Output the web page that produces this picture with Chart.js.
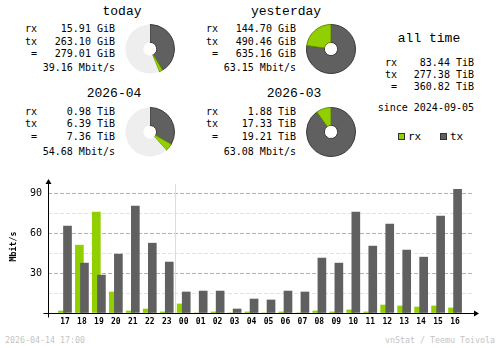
<!DOCTYPE html>
<html>
<head>
<meta charset="UTF-8"/>
<title>vnStat summary</title>
<script src="https://cdn.jsdelivr.net/npm/chart.js@4.4.1/dist/chart.umd.min.js"></script>
<style>
body{margin:0;background:#fff;}
#wrap{position:relative;width:500px;height:348px;overflow:hidden;font-family:"DejaVu Sans Mono",monospace;color:#000;}
.t{position:absolute;white-space:pre;line-height:14px;height:14px;}
.h{font-family:"Liberation Mono","DejaVu Sans Mono",monospace;}
.sq{position:absolute;width:5px;height:5px;border:1px solid #333;}
canvas{position:absolute;}
</style>
</head>
<body>
<div id="wrap"></div>
<script>
// summary blocks
const periods = ['today', 'yesterday', '2026-04', '2026-03'];
const periodRx = [15.91, 144.70, 0.98, 1.88];
const periodTx = [263.10, 490.46, 6.39, 17.33];
const periodTotal = [279.01, 635.16, 7.36, 19.21];
const periodUnit = ['GiB', 'GiB', 'TiB', 'TiB'];
const periodRate = [39.16, 63.15, 54.68, 63.08];

const allTimeRx = 83.44, allTimeTx = 277.38, allTimeTotal = 360.82;
const allTimeUnit = 'TiB';
const since = '2024-09-05';
const stamp = '2026-04-14 17:00';

// hourly graph
const hours = ['17','18','19','20','21','22','23','00','01','02','03','04',
               '05','06','07','08','09','10','11','12','13','14','15','16'];
const hourlyRx = [1.5, 51, 75.8, 15.8, 1.5, 3, 0.8, 6.8, 0, 0.8, 0, 0.8,
                  0, 0.8, 0, 1.5, 0.8, 2.3, 0.8, 6, 5.3, 4.5, 5.3, 3.8];
const hourlyTx = [65.3, 37.5, 28.5, 44.3, 80.3, 52.5, 38.3, 15.8, 16.5, 16.5, 3, 10.5,
                  9.8, 16.5, 15.8, 41.3, 37.5, 75.8, 50.3, 66.8, 47.3, 42, 72.8, 93];
const yTicks = [30, 60, 90];
const yMinorTicks = [15, 45, 75];

const RX = '#92cf00', TX = '#606060';
const wrap = document.getElementById('wrap');

function text(str, x, cy, align, size, color, cls) {
    const d = document.createElement('div');
    d.className = 't' + (cls ? ' ' + cls : '');
    d.textContent = str;
    d.style.left = x + 'px';
    d.style.top = (cy - 7) + 'px';
    d.style.fontSize = (size || 10) + 'px';
    if (color) d.style.color = color;
    if (align === 'right') d.style.transform = 'translateX(-100%)';
    if (align === 'center') d.style.transform = 'translateX(-50%)';
    wrap.appendChild(d);
}

// layout of the four blocks
const blocks = [
    {left: 25, right: 115, title: 122, top: 11.7, pie: [150, 48.5], ys: [29.3, 41.7, 54.3, 68.3]},
    {left: 206, right: 296, title: 286, top: 11.7, pie: [331, 48.5], ys: [29.3, 41.7, 54.3, 68.3]},
    {left: 25, right: 115, title: 114, top: 94, pie: [150, 132], ys: [111.7, 124.3, 137.3, 152.3]},
    {left: 206, right: 296, title: 294, top: 94, pie: [331, 132], ys: [111.7, 124.3, 137.3, 152.3]}
];

periods.forEach((p, i) => {
    const b = blocks[i];
    text(p, b.title, b.top, 'center', 13, null, 'h');
    text('rx', b.left, b.ys[0]);
    text('tx', b.left, b.ys[1]);
    text('=', b.left + 12, b.ys[2], 'right');
    text(periodRx[i].toFixed(2) + ' ' + periodUnit[i], b.right, b.ys[0], 'right');
    text(periodTx[i].toFixed(2) + ' ' + periodUnit[i], b.right, b.ys[1], 'right');
    text(periodTotal[i].toFixed(2) + ' ' + periodUnit[i], b.right, b.ys[2], 'right');
    text(periodRate[i].toFixed(2) + ' Mbit/s', b.right, b.ys[3], 'right');

    // pies are scaled against the bigger total of each pair
    const pair = i < 2 ? [0, 1] : [2, 3];
    const max = Math.max(periodTotal[pair[0]], periodTotal[pair[1]]);
    const c = document.createElement('canvas');
    c.width = 50; c.height = 50;
    c.style.left = (b.pie[0] - 25) + 'px';
    c.style.top = (b.pie[1] - 25) + 'px';
    wrap.appendChild(c);
    new Chart(c, {
        type: 'doughnut',
        data: {
            labels: ['tx', 'rx', ''],
            datasets: [{
                data: [periodTx[i], periodRx[i], Math.max(0, max - periodTotal[i])],
                backgroundColor: [TX, RX, '#eeeeee'],
                borderColor: ['#3a3a3a', '#5f8a00', 'rgba(0,0,0,0)'],
                borderWidth: [1, 1, 0]
            }]
        },
        options: {
            responsive: false,
            devicePixelRatio: 1,
            animation: false,
            events: [],
            cutout: '27%',
            plugins: {legend: {display: false}, tooltip: {enabled: false}}
        }
    });
});

// all time
text('all time', 429, 39.3, 'center', 13, null, 'h');
text('rx', 385, 62.5);
text('tx', 385, 74.5);
text('=', 397, 87, 'right');
text(allTimeRx.toFixed(2) + ' ' + allTimeUnit, 474, 62.5, 'right');
text(allTimeTx.toFixed(2) + ' ' + allTimeUnit, 474, 74.5, 'right');
text(allTimeTotal.toFixed(2) + ' ' + allTimeUnit, 474, 87, 'right');
text('since ' + since, 474, 108.3, 'right');

// legend
[['rx', RX, 398], ['tx', TX, 440]].forEach(([name, col, x]) => {
    const s = document.createElement('div');
    s.className = 'sq';
    s.style.left = x + 'px';
    s.style.top = '133px';
    s.style.background = col;
    wrap.appendChild(s);
    text(name, x + 10, 136.7, 'left', 11);
});

// footer
text(stamp, 5, 340, 'left', 8.3, '#c4c4c4');
text('vnStat / Teemu Toivola', 495, 340, 'right', 8.3, '#c4c4c4');

// hourly bars
const bc = document.createElement('canvas');
bc.width = 500; bc.height = 160;
bc.style.left = '0px'; bc.style.top = '170px';
wrap.appendChild(bc);

const BAR_SHIFT = 0.15;
const axisDeco = {
    id: 'axisDeco',
    beforeDatasetsDraw(chart) {
        const {ctx, chartArea: a, scales: {x}} = chart;
        const sx = Math.round(x.getPixelForValue(hours.indexOf('00') - 0.5)) + 0.5;
        ctx.save();
        ctx.strokeStyle = '#dcdcdc';
        ctx.lineWidth = 1;
        ctx.beginPath();
        ctx.moveTo(sx, a.top + 4);
        ctx.lineTo(sx, a.bottom);
        ctx.stroke();
        ctx.restore();
    },
    afterDatasetsDraw(chart) {
        const {ctx, chartArea: a} = chart;
        const y0 = Math.round(a.bottom) + 0.5, x0 = Math.round(a.left) + 0.5;
        ctx.save();
        ctx.strokeStyle = '#000';
        ctx.fillStyle = '#000';
        ctx.lineWidth = 1;
        ctx.beginPath();
        ctx.moveTo(x0 - 5, y0); ctx.lineTo(a.right + 3, y0);
        ctx.moveTo(x0, a.top); ctx.lineTo(x0, y0 + 4);
        ctx.stroke();
        ctx.beginPath();
        ctx.moveTo(a.right + 7, y0); ctx.lineTo(a.right + 2, y0 - 3); ctx.lineTo(a.right + 2, y0 + 3);
        ctx.closePath(); ctx.fill();
        ctx.beginPath();
        ctx.moveTo(x0, a.top - 1); ctx.lineTo(x0 - 3, a.top + 4); ctx.lineTo(x0 + 3, a.top + 4);
        ctx.closePath(); ctx.fill();
        ctx.restore();
    }
};

new Chart(bc, {
    type: 'bar',
    data: {
        datasets: [
            {label: 'rx', data: hourlyRx.map((v, i) => ({x: i - BAR_SHIFT, y: v})),
             backgroundColor: RX, order: 1},
            {label: 'tx', data: hourlyTx.map((v, i) => ({x: i + BAR_SHIFT, y: v})),
             backgroundColor: TX, order: 0}
        ]
    },
    options: {
        responsive: false,
        devicePixelRatio: 1,
        animation: false,
        events: [],
        grouped: false,
        barThickness: 8,
        layout: {padding: {top: 10, right: 28, left: 0, bottom: 0}},
        plugins: {legend: {display: false}, tooltip: {enabled: false}},
        scales: {
            x: {
                type: 'linear', min: -1, max: 24, offset: false,
                grid: {display: false, drawTicks: false},
                border: {display: false},
                afterFit(s) { s.height = 17; s.paddingLeft = 0; s.paddingRight = 0; },
                ticks: {
                    stepSize: 1, autoSkip: false, maxRotation: 0, padding: 4,
                    color: '#000', font: {size: 8, weight: 'bold', family: 'DejaVu Sans Mono'},
                    callback: v => hours[v] || ''
                }
            },
            y: {
                min: 0, max: 100,
                afterFit(s) { s.width = 48; s.paddingTop = 0; s.paddingBottom = 0; },
                border: {display: false, dash: [4, 2]},
                grid: {
                    drawTicks: false,
                    color: c => yTicks.includes(c.tick.value) ? '#b0b0b0'
                        : yMinorTicks.includes(c.tick.value) ? '#e2e2e2' : 'rgba(0,0,0,0)'
                },
                ticks: {
                    stepSize: 15, padding: 6, color: '#000',
                    font: {size: 10, family: 'DejaVu Sans Mono'},
                    callback: v => yTicks.includes(v) ? String(v) : ''
                },
                title: {
                    display: true, text: 'Mbit/s', color: '#000',
                    padding: {top: 9, bottom: 0},
                    font: {size: 8.3, weight: 'bold', family: 'DejaVu Sans Mono'}
                }
            }
        }
    },
    plugins: [axisDeco]
});
</script>
</body>
</html>
